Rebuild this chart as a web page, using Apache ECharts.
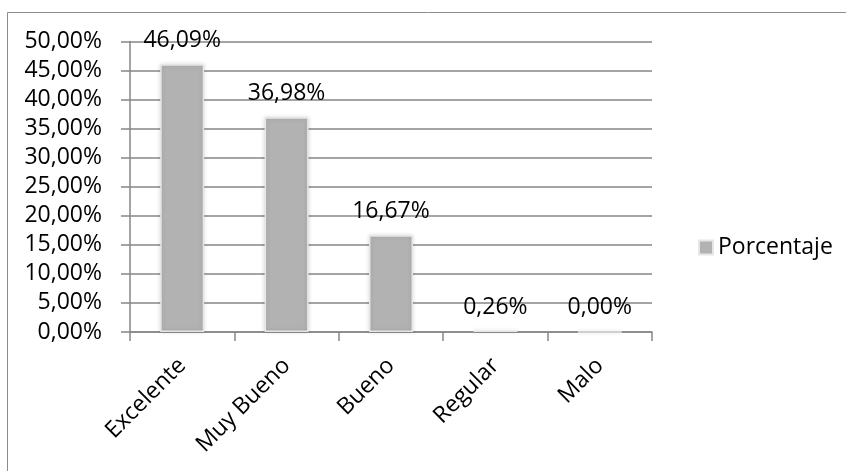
<!DOCTYPE html>
<html>
<head>
<meta charset="utf-8">
<script src="https://cdn.jsdelivr.net/npm/echarts@6/dist/echarts.min.js"></script>
<style>
    html, body { margin: 0; padding: 0; background: #fff; }
    #chart { width: 846px; height: 471px; }
</style>
</head>
<body>
<div id="chart"></div>
<script>
// datos
var categorias = ['Excelente', 'Muy Bueno', 'Bueno', 'Regular', 'Malo'];
var porcentaje = [46.09, 36.98, 16.67, 0.26, 0.00];
var ejeMin = 0, ejeMax = 50, ejeIntervalo = 5;

function fmt(v) {
    return v.toFixed(2).replace('.', ',') + '%';
}

var fuente = 'Open Sans';
var tam = 23;
var chart = echarts.init(document.getElementById('chart'));
var option = {
    animation: false,
    backgroundColor: '#fff',
    textStyle: { fontFamily: fuente },
    graphic: [{
        type: 'rect',
        shape: { x: 7.5, y: 12.5, width: 900, height: 600 },
        style: { fill: 'none', stroke: '#8c8c8c', lineWidth: 1 },
        silent: true
    }],
    legend: {
        data: ['Porcentaje'],
        orient: 'vertical',
        left: 693,
        top: 231,
        itemWidth: 14,
        itemHeight: 14,
        itemGap: 6,
        icon: 'rect',
        textStyle: { fontFamily: fuente, fontSize: tam, color: '#000' }
    },
    grid: { left: 130, right: 194, top: 41.5, bottom: 139 },
    xAxis: {
        type: 'category',
        data: categorias,
        axisLine: { lineStyle: { color: '#868686', width: 1.5 } },
        axisTick: { show: true, length: 9, lineStyle: { color: '#868686', width: 1.5 } },
        axisLabel: {
            rotate: 45,
            margin: 30,
            fontFamily: fuente,
            fontSize: tam,
            color: '#000'
        }
    },
    yAxis: {
        type: 'value',
        min: ejeMin,
        max: ejeMax,
        interval: ejeIntervalo,
        axisLine: { show: true, lineStyle: { color: '#868686', width: 1.5 } },
        axisTick: { show: true, length: 9, lineStyle: { color: '#868686', width: 1.5 } },
        splitLine: { lineStyle: { color: '#868686', width: 1.5 } },
        axisLabel: {
            margin: 28,
            formatter: fmt,
            fontFamily: fuente,
            fontSize: tam,
            color: '#000'
        }
    },
    series: [{
        name: 'Porcentaje',
        type: 'bar',
        data: porcentaje,
        barWidth: 44,
        itemStyle: {
            color: '#b2b2b2',
            borderColor: '#e6e6e6',
            borderWidth: 1.5,
            shadowColor: 'rgba(0,0,0,0.15)',
            shadowBlur: 4
        },
        label: {
            show: true,
            position: 'top',
            distance: 12,
            formatter: function (p) { return fmt(p.value); },
            fontFamily: fuente,
            fontSize: tam,
            color: '#000'
        }
    }]
};
chart.setOption(option);
</script>
</body>
</html>
